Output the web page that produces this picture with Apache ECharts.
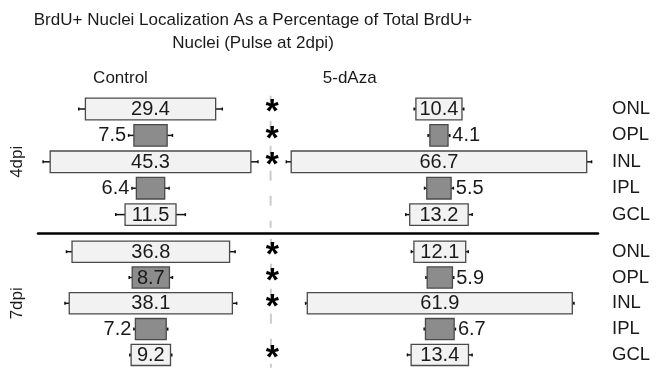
<!DOCTYPE html>
<html>
<head>
<meta charset="utf-8">
<script src="https://cdn.jsdelivr.net/npm/echarts@6/dist/echarts.min.js"></script>
<style>
  html, body { margin: 0; padding: 0; background: #ffffff; }
  #chart { width: 656px; height: 371px; }
</style>
</head>
<body>
<div id="chart"></div>
<script>
// Retinal layers, top to bottom
const layers = ['ONL', 'OPL', 'INL', 'IPL', 'GCL'];
const plexiformLayers = ['OPL', 'IPL'];

// 4 days post injury: mean % of BrdU+ nuclei and error
const control4dpi = [29.4, 7.5, 45.3, 6.4, 11.5];
const control4dpiErr = [1.5, 1.2, 1.6, 1.0, 2.1];
const aza4dpi = [10.4, 4.1, 66.7, 5.5, 13.2];
const aza4dpiErr = [0.4, 0.4, 1.1, 0.5, 0.9];
const significant4dpi = [true, true, true, false, false];

// 7 days post injury
const control7dpi = [36.8, 8.7, 38.1, 7.2, 9.2];
const control7dpiErr = [1.3, 0.7, 1.0, 0.35, 0.3];
const aza7dpi = [12.1, 5.9, 61.9, 6.7, 13.4];
const aza7dpiErr = [0.6, 0.3, 0.4, 0.3, 0.85];
const significant7dpi = [true, true, true, false, true];

const FONT = '"Liberation Sans", Arial, sans-serif';
const INK = '#1a1a1a';

// One row of panels per time point; centers are x positions (axis units) of each group
const panels = [
  { name: '4dpi', control: control4dpi, controlErr: control4dpiErr, aza: aza4dpi, azaErr: aza4dpiErr,
    sig: significant4dpi, xMax: 126.4, controlCenter: 25.4, azaCenter: 90.5, divider: 52.5,
    top: 95.8, height: 132 },
  { name: '7dpi', control: control7dpi, controlErr: control7dpiErr, aza: aza7dpi, azaErr: aza7dpiErr,
    sig: significant7dpi, xMax: 130.8, controlCenter: 26.35, azaCenter: 93.85, divider: 54.4,
    top: 238.8, height: 129 }
];

// Centered bar with whiskers and a value label (inside when it fits, otherwise outside)
function centeredBar(center, labelSide) {
  return function (params, api) {
    const i = api.value(0), v = api.value(1), e = api.value(2);
    const y = api.coord([center, i])[1];
    const x0 = api.coord([center - v / 2, i])[0];
    const x1 = api.coord([center + v / 2, i])[0];
    const xe0 = api.coord([center - v / 2 - e, i])[0];
    const xe1 = api.coord([center + v / 2 + e, i])[0];
    const h = api.size([0, 1])[1] * 0.82;
    const dark = plexiformLayers.indexOf(layers[i]) >= 0;
    const whisker = { stroke: '#111111', lineWidth: 1.5 };
    const inside = v >= 8;
    let tx, align;
    if (inside) { tx = (x0 + x1) / 2; align = 'center'; }
    else if (labelSide === 'left') { tx = xe0 - 2.5; align = 'right'; }
    else { tx = xe1 + 2.5; align = 'left'; }
    return {
      type: 'group',
      children: [
        { type: 'line', shape: { x1: xe0, y1: y, x2: x0, y2: y }, style: whisker },
        { type: 'line', shape: { x1: x1, y1: y, x2: xe1, y2: y }, style: whisker },
        { type: 'line', shape: { x1: xe0, y1: y - 1.5, x2: xe0, y2: y + 1.5 }, style: whisker },
        { type: 'line', shape: { x1: xe1, y1: y - 1.5, x2: xe1, y2: y + 1.5 }, style: whisker },
        { type: 'rect', shape: { x: x0, y: y - h / 2, width: x1 - x0, height: h },
          style: { fill: dark ? '#8c8c8c' : '#f2f2f2', stroke: '#4a4a4a', lineWidth: 1.3 } },
        { type: 'text', style: { text: v.toFixed(1), x: tx, y: y + 0.5, align: align, verticalAlign: 'middle',
          font: '20px ' + FONT, fill: INK } }
      ]
    };
  };
}

const grids = [], xAxes = [], yAxes = [], series = [];
panels.forEach(function (p, g) {
  grids.push({ left: 38, right: 58, top: p.top, height: p.height, outerBoundsMode: 'none', containLabel: false });
  xAxes.push({
    gridIndex: g, type: 'value', min: 0, max: p.xMax, position: 'bottom', offset: g === 0 ? 5.5 : 0,
    axisLine: { show: g === 0, onZero: false, lineStyle: { color: '#000000', width: 2.5 } },
    axisTick: { show: false }, axisLabel: { show: false }, splitLine: { show: false }
  });
  // row labels on the right
  yAxes.push({
    gridIndex: g, type: 'category', data: layers, inverse: true, position: 'right',
    axisLine: { show: false }, axisTick: { show: false }, splitLine: { show: false },
    axisLabel: { margin: 14, fontSize: 18.5, fontFamily: FONT, color: INK }
  });
  // time point label on the left
  yAxes.push({
    gridIndex: g, type: 'category', data: layers, inverse: true, position: 'left',
    name: p.name, nameLocation: 'middle', nameRotate: 90, nameGap: 12,
    nameTextStyle: { fontSize: 17, fontFamily: FONT, color: INK },
    axisLine: { show: false }, axisTick: { show: false }, axisLabel: { show: false }, splitLine: { show: false }
  });
  const yIdx = g * 2;

  // dashed divider between the two groups
  series.push({
    type: 'custom', xAxisIndex: g, yAxisIndex: yIdx, silent: true, z: 1,
    data: [[p.divider, 0]], encode: { x: 0, y: 1 },
    renderItem: function (params, api) {
      const cs = params.coordSys;
      const x = api.coord([api.value(0), 0])[0];
      return { type: 'line', shape: { x1: x, y1: cs.y, x2: x, y2: cs.y + cs.height },
        style: { stroke: '#cccccc', lineWidth: 2, lineDash: [10, 15] } };
    }
  });

  series.push({
    name: 'Control', type: 'custom', xAxisIndex: g, yAxisIndex: yIdx, z: 3,
    data: p.control.map(function (v, i) { return [i, v, p.controlErr[i]]; }),
    encode: { x: 1, y: 0 },
    renderItem: centeredBar(p.controlCenter, 'left')
  });
  series.push({
    name: '5-dAza', type: 'custom', xAxisIndex: g, yAxisIndex: yIdx, z: 3,
    data: p.aza.map(function (v, i) { return [i, v, p.azaErr[i]]; }),
    encode: { x: 1, y: 0 },
    renderItem: centeredBar(p.azaCenter, 'right')
  });

  // significance markers
  const sigRows = [];
  p.sig.forEach(function (s, i) { if (s) sigRows.push([p.divider, i]); });
  series.push({
    type: 'custom', xAxisIndex: g, yAxisIndex: yIdx, z: 4, silent: true,
    data: sigRows, encode: { x: 0, y: 1 },
    renderItem: function (params, api) {
      const pt = api.coord([api.value(0), api.value(1)]);
      return { type: 'text', style: { text: '*', x: pt[0] + 1.5, y: pt[1] + 4, align: 'center',
        verticalAlign: 'middle', font: 'bold 34px ' + FONT, fill: '#000000' } };
    }
  });
});

const chart = echarts.init(document.getElementById('chart'), null, { renderer: 'canvas' });
chart.setOption({
  animation: false,
  backgroundColor: '#ffffff',
  title: [
    { text: 'BrdU+ Nuclei Localization As a Percentage of Total BrdU+\nNuclei (Pulse at 2dpi)',
      left: 248, top: 4, textAlign: 'center',
      textStyle: { fontFamily: FONT, fontSize: 17, fontWeight: 'normal', lineHeight: 23, color: INK } },
    { text: 'Control', left: 115.5, top: 65, textAlign: 'center',
      textStyle: { fontFamily: FONT, fontSize: 17, fontWeight: 'normal', color: INK } },
    { text: '5-dAza', left: 344.7, top: 65, textAlign: 'center',
      textStyle: { fontFamily: FONT, fontSize: 17, fontWeight: 'normal', color: INK } }
  ],
  grid: grids,
  xAxis: xAxes,
  yAxis: yAxes,
  series: series
});
</script>
</body>
</html>
